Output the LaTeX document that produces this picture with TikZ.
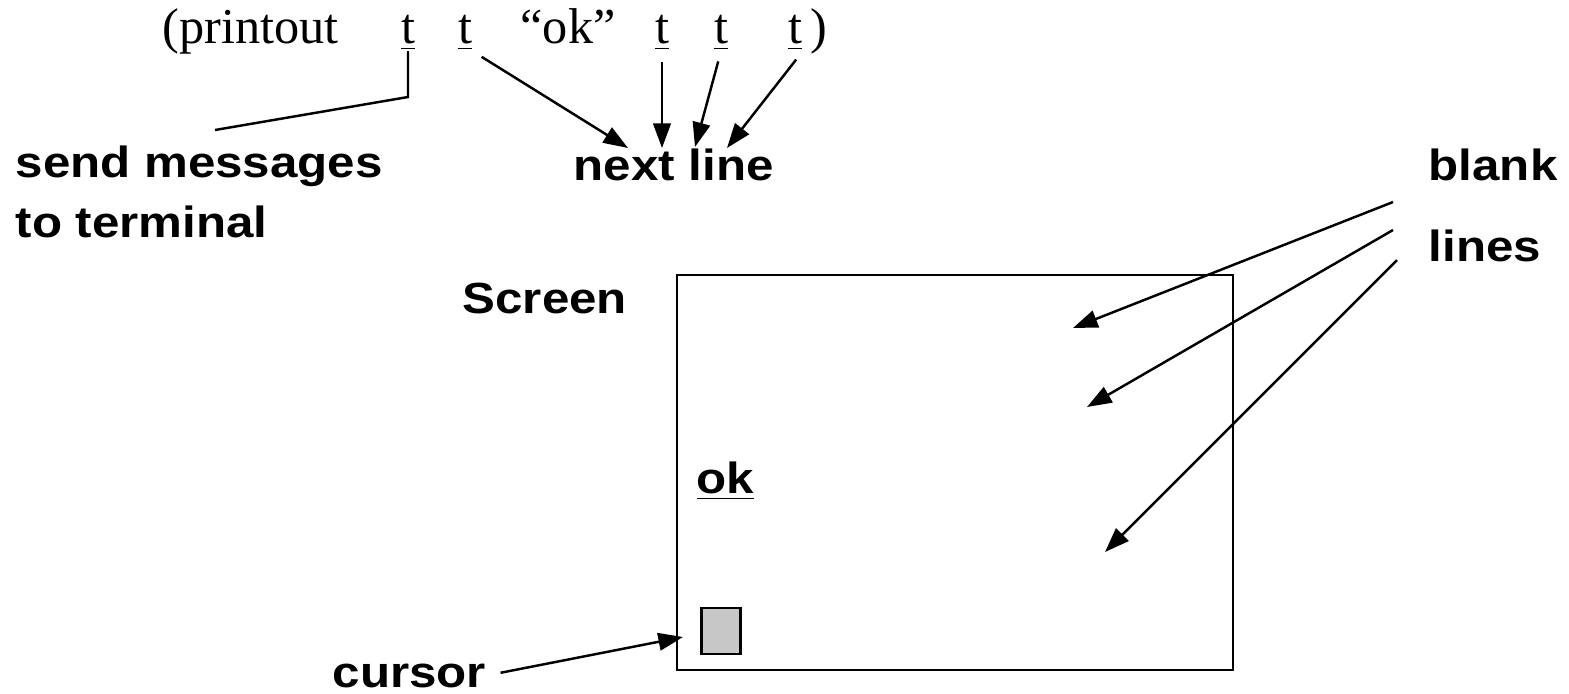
\documentclass[tikz,border=0pt]{standalone}
\usepackage{fontspec}
\setmainfont[FakeStretch=1.0]{Liberation Serif}
\setsansfont[FakeStretch=1.13]{Liberation Sans}
\usetikzlibrary{arrows.meta}

\begin{document}
\begin{tikzpicture}[x=0.01cm, y=-0.01cm,
  code/.style={font=\fontsize{14.3pt}{16pt}\selectfont, inner sep=0pt, anchor=base west},
  tee/.style={code, anchor=base},
  label/.style={font=\sffamily\bfseries\fontsize{12.4pt}{17pt}\selectfont, inner sep=0pt, anchor=base west},
  arr/.style={-{Triangle[length=7pt,width=5pt]}, line width=0.7pt},
  ln/.style={line width=0.7pt},
]
\useasboundingbox (0,0) rectangle (1569,693);

% --- the call ---
\node[code] (call) at (162,43) {(printout};
\node[tee] (t1) at (408,43) {\underline{t}};
\node[tee] (t2) at (465,43) {\underline{t}};
\node[tee] (okq) at (568,43) {“ok”};
\node[tee] (t3) at (662,43) {\underline{t}};
\node[tee] (t4) at (721,43) {\underline{t}};
\node[tee] (t5) at (795,43) {\underline{t}};
\node[code] (rpar) at (810,43) {)};

% --- labels (base = last line) ---
\node[label, align=left] (send) at (15,237) {send messages\\to terminal};
\node[label] (next) at (573,180) {next line};
\node[label, align=left] (blank) at (1428,261) {blank\\[6pt]lines};
\node[label] (scr) at (462,313) {Screen};
\node[label] (curlbl) at (332,687) {cursor};

% --- screen ---
\draw[ln] (677,275) rectangle (1233,670);
\node[label] (ok) at (696,493) {\underline{ok}};
\node[draw, line width=0.7pt, fill=black!22, inner sep=0pt,
  minimum width=0.39cm, minimum height=0.46cm] (cur) at (721,631) {};

% arrow ends
\coordinate (bend) at (408,97);
\coordinate (sendtip) at (215,130);
\coordinate (nl1) at (628,148);
\coordinate (nl2) at (662,148);
\coordinate (nl3) at (695,147);
\coordinate (nl4) at (727,148);
\coordinate (bl1) at (1393,202);
\coordinate (bl2) at (1393,230);
\coordinate (bl3) at (1397,260);
\coordinate (in1) at (1073,328);
\coordinate (in2) at (1087,407);
\coordinate (in3) at (1105,552);
\coordinate (curtip) at (683,637);

% --- connectors ---
\draw[ln] (t1.south) -- (bend) -- (sendtip);
\draw[arr, shorten <=3pt] (t2.south east) -- (nl1);
\draw[arr, shorten <=3pt] (t3.south) -- (nl2);
\draw[arr, shorten <=3pt] (t4.south) -- (nl3);
\draw[arr, shorten <=3pt] (t5.south east) -- (nl4);
\draw[arr] (bl1) -- (in1);
\draw[arr] (bl2) -- (in2);
\draw[arr] (bl3) -- (in3);
\draw[arr, shorten <=4pt] (curlbl.east) -- (curtip);
\end{tikzpicture}
\end{document}
